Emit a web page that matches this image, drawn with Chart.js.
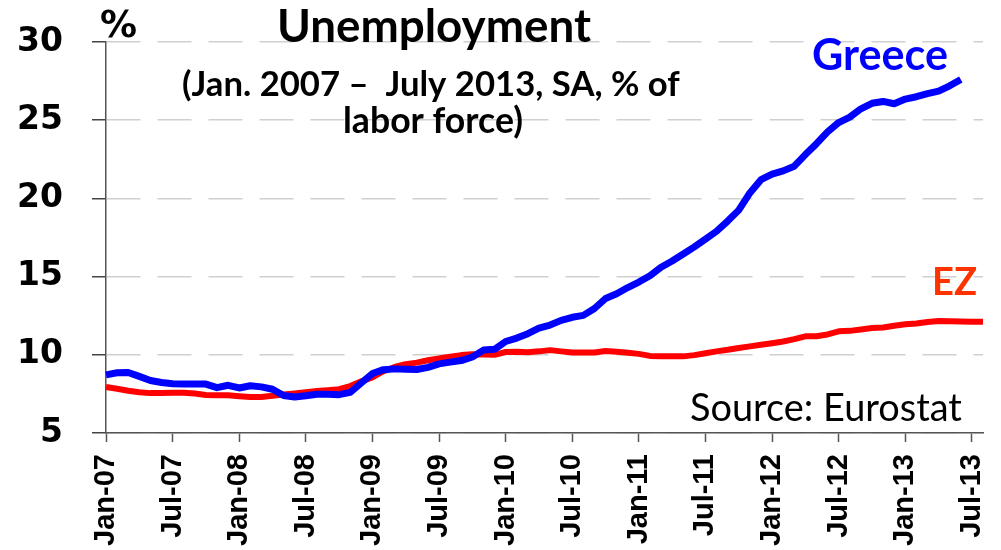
<!DOCTYPE html>
<html>
<head>
<meta charset="utf-8">
<title>Unemployment</title>
<script src="https://cdn.jsdelivr.net/npm/chart.js@4"></script>
<style>
  html, body { margin: 0; padding: 0; background: #fff; }
  #chart { display: block; }
</style>
</head>
<body>
<canvas id="chart" width="1001" height="550"></canvas>
<script>
// month names and years used for the category axis (Jan-07 .. Aug-13)
const monthNames = ["Jan", "Feb", "Mar", "Apr", "May", "Jun", "Jul", "Aug", "Sep", "Oct", "Nov", "Dec"];
const years = ["07", "08", "09", "10", "11", "12", "13"];
const monthCount = 80;

// only every 6th month gets a label on the x axis
const labelEvery = 6;

// y axis ticks
const yTicks = [5, 10, 15, 20, 25, 30];

// unemployment rate, % of labour force
const greece = [
  8.72, 8.85, 8.87, 8.62, 8.36, 8.23, 8.15, 8.13, 8.13, 8.13, 7.9, 8.05,
  7.88, 8.02, 7.95, 7.8, 7.4, 7.3, 7.38, 7.48, 7.47, 7.45, 7.6, 8.2,
  8.8, 9.05, 9.1, 9.08, 9.06, 9.2, 9.42, 9.53, 9.63, 9.86, 10.3, 10.35,
  10.85, 11.07, 11.35, 11.7, 11.9, 12.2, 12.4, 12.52, 12.96, 13.6, 13.9, 14.3,
  14.65, 15.05, 15.6, 16.0, 16.45, 16.9, 17.4, 17.9, 18.55, 19.25, 20.35, 21.2,
  21.55, 21.76, 22.06, 22.8, 23.5, 24.25, 24.85, 25.2, 25.73, 26.08, 26.2, 26.05,
  26.35, 26.5, 26.7, 26.86, 27.2, 27.6
];
const euroZone = [
  7.94, 7.83, 7.7, 7.6, 7.55, 7.56, 7.57, 7.58, 7.52, 7.43, 7.42, 7.41,
  7.35, 7.3, 7.3, 7.38, 7.46, 7.53, 7.61, 7.68, 7.74, 7.8, 8.0, 8.3,
  8.56, 8.95, 9.22, 9.4, 9.5, 9.65, 9.76, 9.87, 9.98, 10.03, 10.02, 10.0,
  10.18, 10.2, 10.17, 10.22, 10.3, 10.22, 10.15, 10.15, 10.15, 10.24, 10.2, 10.13,
  10.06, 9.93, 9.9, 9.9, 9.9, 9.98, 10.1, 10.22, 10.32, 10.44, 10.54, 10.64,
  10.74, 10.85, 11.0, 11.18, 11.19, 11.3, 11.5, 11.53, 11.62, 11.71, 11.75, 11.86,
  11.95, 12.0, 12.1, 12.16, 12.15, 12.13, 12.12, 12.11
];

const months = [];
for (let i = 0; i < monthCount; i++) {
  months.push(monthNames[i % 12] + "-" + years[Math.floor(i / 12)]);
}

// draws a text so that it fills the given width
function drawFit(ctx, text, weight, family, left, right, baseline, color) {
  ctx.font = weight + " 100px " + family;
  const w = ctx.measureText(text).width;
  const size = (100 * (right - left)) / w;
  ctx.font = weight + " " + size.toFixed(2) + "px " + family;
  ctx.fillStyle = color;
  ctx.textAlign = "left";
  ctx.textBaseline = "alphabetic";
  ctx.fillText(text, left, baseline);
}

const annotations = {
  id: "annotations",
  afterDraw(chart) {
    const ctx = chart.ctx;
    ctx.save();
    drawFit(ctx, "%", "bold", "'DejaVu Sans'", 100, 137, 37, "#000");
    drawFit(ctx, "Unemployment", "bold", "Lato", 277, 591, 42, "#000");
    drawFit(ctx, "(Jan. 2007 \u2013  July 2013, SA, % of", "bold", "Lato", 182, 680, 96, "#000");
    drawFit(ctx, "labor force)", "bold", "Lato", 343, 523, 133, "#000");
    drawFit(ctx, "Greece", "bold", "Lato", 812, 948, 70, "#0000ff");
    drawFit(ctx, "EZ", "bold", "Lato", 932, 977, 295, "#ff3300");
    drawFit(ctx, "Source: Eurostat", "normal", "Lato", 690, 962, 421, "#000");
    ctx.restore();
  },
};

const ctx = document.getElementById("chart").getContext("2d");

new Chart(ctx, {
  type: "line",
  data: {
    labels: months,
    datasets: [
      {
        label: "Greece",
        data: greece,
        borderColor: "#0000ff",
        borderWidth: 7,
        pointRadius: 0,
        tension: 0,
        borderJoinStyle: "round",
      },
      {
        label: "EZ",
        data: euroZone,
        borderColor: "#ff0000",
        borderWidth: 6,
        pointRadius: 0,
        tension: 0,
        borderJoinStyle: "round",
      },
    ],
  },
  options: {
    responsive: false,
    animation: false,
    events: [],
    layout: {
      padding: { top: 42, right: 18, bottom: 0, left: 0 },
    },
    plugins: {
      legend: { display: false },
      tooltip: { enabled: false },
      title: { display: false },
    },
    scales: {
      x: {
        type: "category",
        offset: false,
        afterFit: (scale) => {
          scale.height = 117;
          scale.paddingLeft = 0;
          scale.paddingRight = 0;
        },
        grid: {
          display: true,
          drawOnChartArea: false,
          drawTicks: true,
          tickLength: 9,
          tickWidth: 1.5,
          tickColor: "#555",
        },
        border: { color: "#555", width: 1.5 },
        ticks: {
          autoSkip: false,
          minRotation: 90,
          maxRotation: 90,
          padding: 12,
          color: "#000",
          font: { family: "'Liberation Sans', Arial, sans-serif", weight: "bold", size: 29 },
          callback: (value, index) => (index % labelEvery === 0 ? months[index] : null),
        },
      },
      y: {
        min: yTicks[0],
        max: yTicks[yTicks.length - 1],
        afterFit: (scale) => {
          scale.width = 106;
          scale.paddingTop = 0;
          scale.paddingBottom = 0;
        },
        afterBuildTicks: (scale) => {
          scale.ticks = yTicks.map((v) => ({ value: v }));
        },
        grid: {
          color: "#d0d0d0",
          lineWidth: 1.5,
          tickColor: "#444",
          tickLength: 14,
          tickWidth: 1.5,
          tickBorderDash: [],
        },
        border: { color: "#555", width: 1.5, dash: [34, 17] },
        ticks: {
          padding: 29,
          color: "#000",
          font: { family: "'DejaVu Sans', Verdana, sans-serif", weight: "bold", size: 33 },
        },
      },
    },
  },
  plugins: [annotations],
});
</script>
</body>
</html>
